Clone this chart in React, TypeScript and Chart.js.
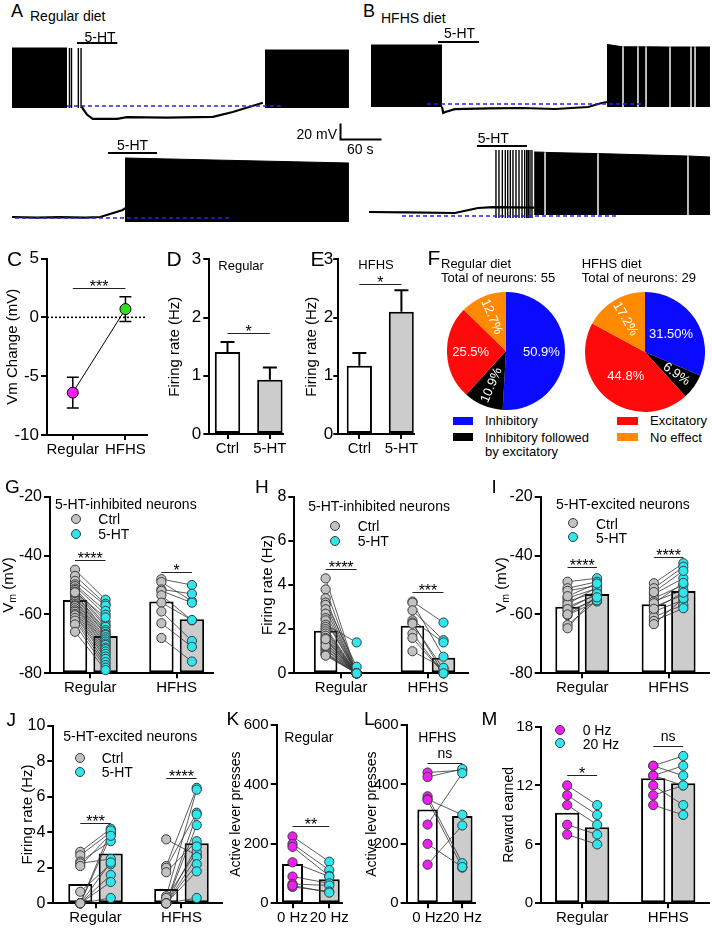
import React, { useEffect, useRef } from 'react';
import { Chart, registerables } from 'chart.js';

Chart.register(...registerables);

const FONT = '"Liberation Sans", Arial, Helvetica, sans-serif';
Chart.defaults.font.family = FONT;
Chart.defaults.color = '#000';

// ================= DATA =================
// --- A/B electrophysiology traces (time in s, membrane potential in mV)
// bursts: [tStart, tEnd, envelopeTopStart, envelopeTopEnd, envelopeBottom]
const a1Bursts = [[2.9, 83.4, 12.5, 12.5, -62.5], [373, 496, 10, 10, -62.5]];
const a1Spikes = [87, 90, 100, 104];
const a1MemT = [105, 107, 113, 121, 157, 171, 230, 297, 326, 351, 370];
const a1MemV = [-60, -64, -71, -76, -76, -74, -74.5, -73.5, -67.5, -61, -56];
const a1Drug = [98, 157];
const a1Baseline = [83.4, 398, -60];

const a2Bursts = [[168.3, 496, 5, -1.25, -75]];
const a2Spikes: number[] = [];
const a2MemT = [3, 40, 73, 110, 132, 151, 165, 168.3];
const a2MemV = [-68.75, -69.5, -69, -69.5, -68.75, -63.75, -60, -57.5];
const a2Drug = [143.4, 215.1];
const a2Baseline = [7.3, 324.9, -70];

const b1Bursts = [
  [7.3, 111.2, 16.25, 16.25, -61.25], [352.7, 375.4, 17, 14, -61.25], [376.8, 397.3, 14, 14, -61.25],
  [398.7, 409.1, 14, 14, -61.25], [410.5, 444.2, 14, 13.75, -61.25], [445.6, 474.9, 13.75, 13.75, -61.25],
  [476.3, 480.8, 13.75, 13.75, -61.25], [482.2, 503.4, 13.75, 13.75, -61.25],
];
const b1Spikes: number[] = [];
const b1MemT = [111.2, 113, 116, 130, 180, 228, 277, 325, 345, 353];
const b1MemV = [-61, -68.75, -67.5, -64, -63, -62.5, -63.75, -61.25, -56.25, -55];
const b1Drug = [105.4, 165.4];
const b1Baseline = [89.3, 403.9, -57.5];

const b2Bursts = [
  [246, 261.3, 12.5, 12.2, -66.25], [262.7, 338.8, 12, 10.5, -66.25],
  [340.2, 470.5, 10.5, 7.5, -66.25], [471.9, 503.4, 7.5, 6.25, -66.25],
];
const b2Spikes = [190.2, 194.6, 199.5, 203.9, 207.4, 211.2, 215.1, 219.5, 223.9, 228.3, 232.2, 235.2, 237.5, 240, 242.9];
const b2MemT = [4.4, 60, 130, 164, 186, 246];
const b2MemV = [-62.5, -63, -63.75, -57.5, -56.5, -57];
const b2Drug = [162.4, 235.6];
const b2Baseline = [52.7, 367.3, -67.5];

const scaleBarSeconds = 60;
const scaleBarMillivolts = 20;

// --- C
const dietGroups = ['Regular', 'HFHS'];
const cMeans = [-6.4, 0.7];
const cSem = [1.3, 1.05];
// --- D, E
const rateConditions = ['Ctrl', '5-HT'];
const dMeans = [1.41, 0.93];
const dSem = [0.17, 0.21];
const eMeans = [1.17, 2.1];
const eSem = [0.22, 0.37];
// --- F
const pieCategories = ['Inhibitory', 'Inhibitory followed by excitatory', 'Excitatory', 'No effect'];
const pieRegular = [50.9, 10.9, 25.5, 12.7];
const pieRegularLabels = ['50.9%', '10.9%', '25.5%', '12.7%'];
const pieHFHS = [31.5, 6.9, 44.8, 17.2];
const pieHFHSLabels = ['31.50%', '6.9%', '44.8%', '17.2%'];
// --- G (Vm, 5-HT-inhibited)
const gBars = [-55.1, -67.3, -55.6, -61.6];
const gRegCtrl = [-44.8, -46.9, -48.6, -49.8, -50.4, -51.2, -51.7, -52.3, -52.9, -53.1, -53.8, -54.2, -54.9, -55.3, -55.8, -56.4, -56.9, -57.2, -57.9, -58.6, -59.1, -59.8, -60.3, -61.2, -62.1, -63.4, -65.9, -52.5];
const gRegHT = [-55.0, -56.4, -57.0, -58.8, -60.1, -62.4, -63.5, -64.2, -65.3, -65.9, -66.6, -67.0, -67.8, -68.5, -69.2, -69.9, -70.4, -71.3, -71.8, -72.6, -73.4, -74.3, -75.1, -76.2, -77.2, -78.1, -78.9, -61.0];
const gHfCtrl = [-48, -49, -51.5, -52, -53.5, -56, -59, -63, -68];
const gHfHT = [-50, -55.5, -53, -56, -62, -61.9, -69, -71, -76];
// --- H (firing rate, 5-HT-inhibited)
const hBars = [1.93, 0.03, 2.15, 0.71];
const hRegCtrl = [4.3, 3.8, 3.4, 3.2, 3.1, 2.9, 2.7, 2.5, 2.4, 2.2, 2.1, 2.0, 1.9, 1.8, 1.7, 1.6, 1.5, 1.4, 1.35, 1.2, 1.1, 1.05, 0.95, 0.9, 0.85, 0.8, 1.25, 1.55];
const hRegHT = [0, 0, 0, 0.3, 0, 0, 0, 0, 0, 1.4, 0, 0, 0, 0, 0, 0, 0, 0, 0, 0, 0, 0, 0, 0, 0, 0, 0, 0];
const hHfCtrl = [3.25, 3.2, 2.85, 2.4, 2.3, 2.25, 1.8, 1.0, 1.6];
const hHfHT = [2.3, 0.75, 1.5, 1.4, 0, 0.2, 0, 0.25, 0];
// --- I (Vm, 5-HT-excited)
const iBars = [-57.35, -53.1, -56.5, -52.0];
const iRegCtrl = [-48.9, -51.1, -52.0, -54.5, -55.6, -57.4, -59.0, -60.2, -63.6, -64.7, -56.5, -58.2, -60.0, -53.8];
const iRegHT = [-47.7, -48.9, -50.2, -51.1, -52.3, -53.4, -54.7, -55.6, -55.2, -53.0, -50.8, -52.9, -54.2, -49.5];
const iHfCtrl = [-49.4, -51.1, -53.1, -54.5, -55.6, -57.4, -59.0, -60.8, -62.2, -63.3, -56.2, -58.1, -52.4];
const iHfHT = [-42.6, -43.8, -47.7, -50.0, -51.7, -53.4, -55.1, -56.8, -57.9, -54.5, -49.3, -52.6, -45.2];
// --- J (firing rate, 5-HT-excited)
const jBars = [1.09, 2.81, 0.8, 3.38];
const jRegCtrl = [2.9, 2.7, 2.35, 2.25, 2.1, 0.65, 0, 0, 0, 0, 0, 0];
const jRegHT = [4.2, 4.0, 3.5, 2.5, 3.9, 2.2, 4.1, 3.8, 2.3, 1.6, 1.2, 0.3];
const jHfCtrl = [3.6, 2.1, 2.0, 1.75, 0.4, 0.3, 0, 0, 0, 0, 0, 0, 0];
const jHfHT = [2.7, 6.5, 5.1, 3.5, 6.4, 2.9, 5.0, 4.4, 3.2, 2.6, 2.2, 1.8, 0.3];
// --- K, L, M
const stimConditions = ['0 Hz', '20 Hz'];
const kBars = [132, 81];
const kHz0 = [225, 200, 190, 138, 90, 65, 55, 60];
const kHz20 = [140, 112, 92, 90, 67, 60, 40, 36];
const lBars = [316, 294];
const lHz0 = [440, 425, 360, 350, 348, 265, 200, 130];
const lHz20 = [448, 452, 135, 298, 120, 438, 122, 262];
const mBars = [9.23, 7.74, 12.74, 12.23];
const mRegHz0 = [12, 11, 10, 8, 7];
const mRegHz20 = [10, 9, 8, 7, 6];
const mHfHz0 = [14, 14, 13, 13, 12, 11, 10];
const mHfHz20 = [13, 15, 14, 12, 10, 12, 9];

// ================= STYLE =================
const WHITE = '#ffffff';
const GREY = '#cccccc';
const DOT_GREY = '#c2c2c2';
const CYAN = '#2fe6ee';
const MAGENTA = '#f01ef0';
const GREEN = '#33dd22';
const PIE_COLORS = ['#0a0aff', '#000000', '#ff0a0a', '#ff8a00'];
const PX_PER_S = 41 / 60;
const PX_PER_MV = 16 / 20;
const TRACE_VMAX = 30;
const PAD_T = 14;
const PAD_R = 6;
const HX = 30;

// ================= PLUGINS =================
function yTitlePlugin(segs: any[], x: number, size: number) {
  return {
    id: 'yTitle',
    afterDraw(chart: any) {
      const { ctx, chartArea } = chart;
      const cy = (chartArea.top + chartArea.bottom) / 2;
      ctx.save();
      ctx.translate(x, cy);
      ctx.rotate(-Math.PI / 2);
      ctx.fillStyle = '#000';
      ctx.textBaseline = 'middle';
      ctx.textAlign = 'left';
      const parts = segs.map((s) => ({ text: s.text, sub: !!s.sub, font: `${s.sub ? size * 0.7 : size}px ${FONT}`, w: 0 }));
      let total = 0;
      for (const p of parts) { ctx.font = p.font; p.w = ctx.measureText(p.text).width; total += p.w; }
      let px = -total / 2;
      for (const p of parts) { ctx.font = p.font; ctx.fillText(p.text, px, p.sub ? size * 0.32 : 0); px += p.w; }
      ctx.restore();
    },
  };
}

function bracketPlugin(items: any[]) {
  return {
    id: 'brackets',
    afterDatasetsDraw(chart: any) {
      const { ctx } = chart;
      const xs = chart.scales.x, ys = chart.scales.y;
      ctx.save();
      for (const it of items) {
        const x0 = xs.getPixelForValue(it.x0), x1 = xs.getPixelForValue(it.x1);
        const py = Math.round(ys.getPixelForValue(it.y)) + 0.5;
        ctx.strokeStyle = '#222';
        ctx.lineWidth = 1;
        ctx.beginPath(); ctx.moveTo(x0, py); ctx.lineTo(x1, py); ctx.stroke();
        const star = /^\*+$/.test(it.text);
        ctx.font = `${star ? 16 : 14}px ${FONT}`;
        ctx.textAlign = 'center';
        ctx.textBaseline = 'alphabetic';
        ctx.fillStyle = '#000';
        ctx.fillText(it.text, (x0 + x1) / 2, star ? py + 3 : py - 5.5);
      }
      ctx.restore();
    },
  };
}

function errorPlugin(dsIndex: number, means: number[], errs: number[], both: boolean, cap: number, lw: number) {
  return {
    id: 'errorBars',
    beforeDatasetsDraw(chart: any) {
      const { ctx } = chart;
      const ys = chart.scales.y;
      const meta = chart.getDatasetMeta(dsIndex);
      ctx.save();
      ctx.strokeStyle = '#000';
      ctx.lineWidth = lw;
      meta.data.forEach((el: any, i: number) => {
        const x = el.x;
        const yu = ys.getPixelForValue(means[i] + errs[i]);
        const yd = both ? ys.getPixelForValue(means[i] - errs[i]) : ys.getPixelForValue(means[i]);
        ctx.beginPath();
        ctx.moveTo(x, yd); ctx.lineTo(x, yu);
        ctx.moveTo(x - cap / 2, yu); ctx.lineTo(x + cap / 2, yu);
        if (both) { ctx.moveTo(x - cap / 2, yd); ctx.lineTo(x + cap / 2, yd); }
        ctx.stroke();
      });
      ctx.restore();
    },
  };
}

function pieLabelPlugin(values: number[], labels: string[], frac: number, rotFrac: number) {
  return {
    id: 'pieLabels',
    afterDatasetsDraw(chart: any) {
      const { ctx } = chart;
      const meta = chart.getDatasetMeta(0);
      const total = values.reduce((a, b) => a + b, 0);
      meta.data.forEach((arc: any, i: number) => {
        const p = arc.getProps(['x', 'y', 'startAngle', 'endAngle', 'outerRadius'], true);
        const mid = (p.startAngle + p.endAngle) / 2;
        const small = values[i] / total < 0.2;
        const r = p.outerRadius * (small ? rotFrac : frac);
        ctx.save();
        ctx.translate(p.x + Math.cos(mid) * r, p.y + Math.sin(mid) * r);
        if (small) {
          let a = mid;
          while (a > Math.PI) a -= 2 * Math.PI;
          while (a < -Math.PI) a += 2 * Math.PI;
          if (a > Math.PI / 2) a -= Math.PI;
          if (a < -Math.PI / 2) a += Math.PI;
          ctx.rotate(a);
        }
        ctx.fillStyle = '#fff';
        ctx.font = `13px ${FONT}`;
        ctx.textAlign = 'center';
        ctx.textBaseline = 'middle';
        ctx.fillText(labels[i], 0, 0);
        ctx.restore();
      });
    },
  };
}

// ================= TRACES =================
const traces = [
  { box: { left: 10, top: 34, width: 342, height: 92 }, bursts: a1Bursts, spikes: a1Spikes, spikeRange: [-62.5, 12.5], memT: a1MemT, memV: a1MemV, drug: a1Drug, drugLevel: 18.75, baseline: a1Baseline },
  { box: { left: 10, top: 138, width: 342, height: 92 }, bursts: a2Bursts, spikes: a2Spikes, spikeRange: [-75, 5], memT: a2MemT, memV: a2MemV, drug: a2Drug, drugLevel: 11.25, baseline: a2Baseline },
  { box: { left: 366, top: 34, width: 346, height: 92 }, bursts: b1Bursts, spikes: b1Spikes, spikeRange: [-61, 16], memT: b1MemT, memV: b1MemV, drug: b1Drug, drugLevel: 20, baseline: b1Baseline },
  { box: { left: 366, top: 138, width: 346, height: 92 }, bursts: b2Bursts, spikes: b2Spikes, spikeRange: [-70, 15], memT: b2MemT, memV: b2MemV, drug: b2Drug, drugLevel: 20, baseline: b2Baseline },
];

const baseOpts = {
  animation: false,
  responsive: false,
  events: [] as string[],
  plugins: { legend: { display: false }, tooltip: { enabled: false } },
};

function traceConfig(tr: any) {
  const tMax = tr.box.width / PX_PER_S;
  const vMin = TRACE_VMAX - tr.box.height / PX_PER_MV;
  const datasets: any[] = [];
  tr.bursts.forEach((b: number[]) => {
    datasets.push({ data: [{ x: b[0], y: b[2] }, { x: b[1], y: b[3] }], borderColor: '#000', borderWidth: 1, backgroundColor: '#000', fill: { value: b[4] }, pointRadius: 0, order: 4 });
  });
  if (tr.spikes.length) {
    datasets.push({
      data: tr.spikes.flatMap((t: number) => [{ x: t, y: tr.spikeRange[0] }, { x: t, y: tr.spikeRange[1] }, { x: t, y: null }]),
      borderColor: '#000', borderWidth: 1.4, pointRadius: 0, spanGaps: false, fill: false, order: 4,
    });
  }
  datasets.push({ data: tr.memT.map((t: number, i: number) => ({ x: t, y: tr.memV[i] })), borderColor: '#000', borderWidth: 2.2, pointRadius: 0, fill: false, order: 3 });
  datasets.push({ data: [{ x: tr.drug[0], y: tr.drugLevel }, { x: tr.drug[1], y: tr.drugLevel }], borderColor: '#000', borderWidth: 2, pointRadius: 0, fill: false, order: 2 });
  datasets.push({ data: [{ x: tr.baseline[0], y: tr.baseline[2] }, { x: tr.baseline[1], y: tr.baseline[2] }], borderColor: '#2323e6', borderWidth: 1.5, borderDash: [4, 3], pointRadius: 0, fill: false, order: 1 });
  return {
    type: 'line',
    data: { datasets },
    options: {
      ...baseOpts,
      layout: { padding: 0 },
      scales: {
        x: { type: 'linear', min: 0, max: tMax, display: false },
        y: { type: 'linear', min: vMin, max: TRACE_VMAX, display: false },
      },
    },
  };
}

const scaleBox = { left: 330, top: 118, width: 60, height: 30 };
function scaleBarConfig() {
  const t0 = 15.4, vMax = 26.9;
  return {
    type: 'line',
    data: { datasets: [{ data: [{ x: t0, y: scaleBarMillivolts }, { x: t0, y: 0 }, { x: t0 + scaleBarSeconds, y: 0 }], borderColor: '#000', borderWidth: 2, pointRadius: 0, fill: false }] },
    options: {
      ...baseOpts,
      layout: { padding: 0 },
      scales: {
        x: { type: 'linear', min: 0, max: scaleBox.width / PX_PER_S, display: false },
        y: { type: 'linear', min: vMax - scaleBox.height / PX_PER_MV, max: vMax, display: false },
      },
    },
  };
}

// ================= BAR / DOT PANELS =================
const VM_TITLE = [{ text: 'V' }, { text: 'm', sub: true }, { text: ' (mV)' }];
const FR_TITLE = [{ text: 'Firing rate (Hz)' }];

function grp(g: number) { return [0, 1, g, g + 1]; }

function paired(pos: number[], c1: number[], t1: number[], c2: number[], t2: number[], colA: string, colB: string) {
  return {
    dots: [
      { x: pos[0], v: c1, color: colA }, { x: pos[1], v: t1, color: colB },
      { x: pos[2], v: c2, color: colA }, { x: pos[3], v: t2, color: colB },
    ],
    pairs: [{ x0: pos[0], x1: pos[1], a: c1, b: t1 }, { x0: pos[2], x1: pos[3], a: c2, b: t2 }],
  };
}

const gPos = grp(2.83), hPos = grp(2.8), iPos = grp(2.93), jPos = grp(2.82), mPos = grp(2.87);

const panels: any[] = [
  {
    key: 'C', plot: { l: 47, t: 258.5, r: 147, b: 435 }, titleX: 13, title: [{ text: 'Vm Change (mV)' }], titleSize: 15,
    yMin: -10, yMax: 5, yStep: 5, yFont: 17, xMin: -0.49, xMax: 1.4, tickPos: [0, 1], tickLabels: dietGroups,
    barX: [], bars: [], barColors: [], barPct: 0.6, dots: [], pairs: [],
    brackets: [{ x0: 0, x1: 1, y: 2.5, text: '***' }],
  },
  {
    key: 'D', plot: { l: 209.3, t: 259.3, r: 283, b: 434 }, titleX: 175, title: FR_TITLE, titleSize: 15,
    yMin: 0, yMax: 3, yStep: 1, yFont: 17, xMin: -0.43, xMax: 1.31, tickPos: [0, 1], tickLabels: rateConditions,
    barX: [0, 1], bars: dMeans, barColors: [WHITE, GREY], barPct: 0.6, dots: [], pairs: [], errors: dSem,
    brackets: [{ x0: 0, x1: 1, y: 1.74, text: '*' }],
  },
  {
    key: 'E', plot: { l: 338.3, t: 259.3, r: 414.3, b: 434 }, titleX: 311.7, title: FR_TITLE, titleSize: 15,
    yMin: 0, yMax: 3, yStep: 1, yFont: 17, xMin: -0.5, xMax: 1.29, tickPos: [0, 1], tickLabels: rateConditions,
    barX: [0, 1], bars: eMeans, barColors: [WHITE, GREY], barPct: 0.6, dots: [], pairs: [], errors: eSem, tickPad: 0, tickLen: 5,
    brackets: [{ x0: 0, x1: 1, y: 2.58, text: '*' }],
  },
  {
    key: 'G', plot: { l: 50, t: 496.7, r: 213, b: 673.3 }, titleX: 8.5, title: VM_TITLE, titleSize: 15,
    yMin: -80, yMax: -20, yStep: 20, yFont: 16, xMin: -0.82, xMax: 4.52, tickPos: [0.5, gPos[2] + 0.5], tickLabels: dietGroups,
    barX: gPos, bars: gBars, barColors: [WHITE, GREY, WHITE, GREY], barPct: 0.8,
    ...paired(gPos, gRegCtrl, gRegHT, gHfCtrl, gHfHT, DOT_GREY, CYAN),
    brackets: [{ x0: gPos[0], x1: gPos[1], y: -41.5, text: '****' }, { x0: gPos[2], x1: gPos[3], y: -45.5, text: '*' }],
  },
  {
    key: 'H', plot: { l: 294.3, t: 496.7, r: 468, b: 673.3 }, titleX: 268.3, title: FR_TITLE, titleSize: 15,
    yMin: 0, yMax: 8, yStep: 2, yFont: 16, xMin: -1.01, xMax: 4.59, tickPos: [0.5, hPos[2] + 0.5], tickLabels: dietGroups,
    barX: hPos, bars: hBars, barColors: [WHITE, GREY, WHITE, GREY], barPct: 0.76,
    ...paired(hPos, hRegCtrl, hRegHT, hHfCtrl, hHfHT, DOT_GREY, CYAN),
    brackets: [{ x0: hPos[0], x1: hPos[1], y: 4.72, text: '****' }, { x0: hPos[2], x1: hPos[3], y: 3.69, text: '***' }],
  },
  {
    key: 'I', plot: { l: 540.7, t: 496.7, r: 709, b: 673.3 }, titleX: 501.7, title: VM_TITLE, titleSize: 15,
    yMin: -80, yMax: -20, yStep: 20, yFont: 16, xMin: -0.91, xMax: 4.8, tickPos: [0.5, iPos[2] + 0.5], tickLabels: dietGroups,
    barX: iPos, bars: iBars, barColors: [WHITE, GREY, WHITE, GREY], barPct: 0.83,
    ...paired(iPos, iRegCtrl, iRegHT, iHfCtrl, iHfHT, DOT_GREY, CYAN),
    brackets: [{ x0: iPos[0], x1: iPos[1], y: -44.0, text: '****' }, { x0: iPos[2], x1: iPos[3], y: -40.4, text: '****' }],
  },
  {
    key: 'J', plot: { l: 53.3, t: 725.7, r: 221.7, b: 903.3 }, titleX: 28.3, title: FR_TITLE, titleSize: 15,
    yMin: 0, yMax: 10, yStep: 2, yFont: 16, xMin: -0.885, xMax: 4.64, tickPos: [0.5, jPos[2] + 0.5], tickLabels: dietGroups,
    barX: jPos, bars: jBars, barColors: [WHITE, GREY, WHITE, GREY], barPct: 0.79,
    ...paired(jPos, jRegCtrl, jRegHT, jHfCtrl, jHfHT, DOT_GREY, CYAN),
    brackets: [{ x0: jPos[0], x1: jPos[1], y: 4.54, text: '***' }, { x0: jPos[2], x1: jPos[3], y: 7.03, text: '****' }],
  },
  {
    key: 'K', plot: { l: 276.7, t: 725, r: 345, b: 903.3 }, titleX: 236, title: [{ text: 'Active lever presses' }], titleSize: 14,
    yMin: 0, yMax: 600, yStep: 200, yFont: 15, xMin: -0.43, xMax: 1.34, tickPos: [0, 1], tickLabels: stimConditions,
    barX: [0, 1], bars: kBars, barColors: [WHITE, GREY], barPct: 0.57,
    dots: [{ x: 0, v: kHz0, color: MAGENTA }, { x: 1, v: kHz20, color: CYAN }],
    pairs: [{ x0: 0, x1: 1, a: kHz0, b: kHz20 }],
    brackets: [{ x0: 0, x1: 1, y: 260, text: '**' }],
  },
  {
    key: 'L', plot: { l: 406.7, t: 725, r: 478, b: 903.3 }, titleX: 372.5, title: [{ text: 'Active lever presses' }], titleSize: 14,
    yMin: 0, yMax: 600, yStep: 200, yFont: 15, xMin: -0.6, xMax: 1.36, tickPos: [0, 1], tickLabels: stimConditions,
    barX: [0, 1], bars: lBars, barColors: [WHITE, GREY], barPct: 0.59,
    dots: [{ x: 0, v: lHz0, color: MAGENTA }, { x: 1, v: lHz20, color: CYAN }],
    pairs: [{ x0: 0, x1: 1, a: lHz0, b: lHz20 }],
    brackets: [{ x0: 0, x1: 1, y: 473, text: 'ns' }],
  },
  {
    key: 'M', plot: { l: 541, t: 726.5, r: 709, b: 903.3 }, titleX: 509, title: [{ text: 'Reward earned' }], titleSize: 14,
    yMin: 0, yMax: 18, yStep: 6, yFont: 15, xMin: -0.873, xMax: 4.73, tickPos: [0.5, mPos[2] + 0.5], tickLabels: dietGroups,
    barX: mPos, bars: mBars, barColors: [WHITE, GREY, WHITE, GREY], barPct: 0.81,
    ...paired(mPos, mRegHz0, mRegHz20, mHfHz0, mHfHz20, MAGENTA, CYAN),
    brackets: [{ x0: mPos[0], x1: mPos[1], y: 13.08, text: '*' }, { x0: mPos[2], x1: mPos[3], y: 16.03, text: 'ns' }],
  },
];

function panelBox(p: any) {
  const left = Math.round(p.titleX - 12);
  const top = Math.round(p.plot.t - PAD_T);
  const width = Math.round(p.plot.r + PAD_R - left);
  const height = Math.round(p.plot.b + HX - top);
  return {
    left, top, width, height,
    wy: p.plot.l - left,
    padTop: p.plot.t - top,
    padRight: width - (p.plot.r - left),
    padBottom: height - (p.plot.b - top) - HX,
    titleX: p.titleX - left,
  };
}

function panelConfig(p: any) {
  const box = panelBox(p);
  const datasets: any[] = [];
  const plugins: any[] = [yTitlePlugin(p.title, box.titleX, p.titleSize), bracketPlugin(p.brackets)];
  if (p.bars.length) {
    datasets.push({
      type: 'bar', data: p.barX.map((x: number, i: number) => ({ x, y: p.bars[i] })),
      backgroundColor: p.barColors, borderColor: '#000', borderWidth: 2, borderSkipped: false,
      base: p.yMin, barPercentage: p.barPct, categoryPercentage: 1, order: 5,
    });
    if (p.errors) plugins.push(errorPlugin(0, p.bars, p.errors, false, 14, 2));
  }
  p.pairs.forEach((pr: any) => {
    datasets.push({
      type: 'line',
      data: pr.a.flatMap((v: number, i: number) => [{ x: pr.x0, y: v }, { x: pr.x1, y: pr.b[i] }, { x: pr.x1, y: null }]),
      borderColor: '#333', borderWidth: 0.8, pointRadius: 0, spanGaps: false, fill: false, order: 3,
    });
  });
  p.dots.forEach((d: any) => {
    datasets.push({
      type: 'line', showLine: false, data: d.v.map((v: number) => ({ x: d.x, y: v })),
      pointRadius: 4.6, pointBackgroundColor: d.color, pointBorderColor: '#3a3a3a', pointBorderWidth: 1,
      clip: false, fill: false, order: 1,
    });
  });
  if (p.key === 'C') {
    datasets.push({
      type: 'line', data: [{ x: p.xMin, y: 0 }, { x: p.xMax, y: 0 }],
      borderColor: '#000', borderWidth: 1.5, borderDash: [2, 2], pointRadius: 0, fill: false, order: 4,
    });
    datasets.push({
      type: 'line', data: cMeans.map((v, i) => ({ x: i, y: v })),
      borderColor: '#000', borderWidth: 1, pointRadius: 5.5,
      pointBackgroundColor: [MAGENTA, GREEN], pointBorderColor: '#000', pointBorderWidth: 1, fill: false, clip: false, order: 1,
    });
    plugins.push(errorPlugin(1, cMeans, cSem, true, 12, 1.5));
  }
  return {
    type: 'bar',
    data: { datasets },
    plugins,
    options: {
      ...baseOpts,
      layout: { padding: { left: 0, top: box.padTop, right: box.padRight, bottom: box.padBottom } },
      scales: {
        x: {
          type: 'linear', min: p.xMin, max: p.xMax, offset: false,
          grid: { display: true, offset: false, drawOnChartArea: false, drawTicks: true, tickLength: 5, color: '#000', lineWidth: 2 },
          border: { display: true, color: '#000', width: 2 },
          ticks: { autoSkip: false, maxRotation: 0, minRotation: 0, padding: 1, font: { size: 15 }, color: '#000', callback: (_v: any, i: number) => p.tickLabels[i] },
          afterBuildTicks: (s: any) => { s.ticks = p.tickPos.map((v: number) => ({ value: v })); },
          afterFit: (s: any) => { s.height = HX; },
        },
        y: {
          type: 'linear', min: p.yMin, max: p.yMax,
          grid: { display: true, drawOnChartArea: false, drawTicks: true, tickLength: p.tickLen ?? 6, color: '#000', lineWidth: 2 },
          border: { display: true, color: '#000', width: 2 },
          ticks: { stepSize: p.yStep, padding: p.tickPad ?? 2, font: { size: p.yFont }, color: '#000' },
          afterFit: (s: any) => { s.width = box.wy; },
        },
      },
    },
  };
}

// ================= PIES =================
const pie1Box = { left: 447, top: 292, width: 118, height: 118 };
const pie2Box = { left: 585, top: 292, width: 120, height: 120 };
function pieConfig(values: number[], labels: string[], frac: number, rotFrac: number) {
  return {
    type: 'pie',
    data: { labels: pieCategories, datasets: [{ data: values, backgroundColor: PIE_COLORS, borderWidth: 0, hoverOffset: 0, offset: 0 }] },
    plugins: [pieLabelPlugin(values, labels, frac, rotFrac)],
    options: { ...baseOpts, layout: { padding: 0 } },
  };
}

// ================= COMPONENTS =================
function ChartBox({ box, make }: { box: any; make: () => any }) {
  const ref = useRef<HTMLCanvasElement>(null);
  useEffect(() => {
    const c = new Chart(ref.current as HTMLCanvasElement, make());
    return () => c.destroy();
  }, []);
  return (
    <canvas
      ref={ref}
      width={box.width}
      height={box.height}
      style={{ position: 'absolute', left: box.left, top: box.top, width: box.width, height: box.height }}
    />
  );
}

function Txt({ x, y, s, a, c, children }: any) {
  const tf = a === 'middle' ? 'translateX(-50%)' : a === 'end' ? 'translateX(-100%)' : undefined;
  return (
    <div style={{ position: 'absolute', left: x, top: y - 0.8465 * s, fontSize: s, lineHeight: `${s}px`, fontFamily: FONT, whiteSpace: 'nowrap', color: c || '#000', transform: tf }}>
      {children}
    </div>
  );
}

const TEXTS: any[] = [
  [11, 17, 18, 'A'], [30, 20.5, 14, 'Regular diet'], [363, 17, 18, 'B'], [381, 22.5, 14, 'HFHS diet'],
  [100, 41.5, 14, '5-HT', 'middle'], [132.5, 149.5, 14, '5-HT', 'middle'], [459.5, 37.5, 14, '5-HT', 'middle'], [493.3, 143, 14, '5-HT', 'middle'],
  [337, 138.5, 14, '20 mV', 'end'], [347, 154, 14, '60 s'],
  [7, 266, 21, 'C'], [166.5, 266, 21, 'D'], [310.5, 266, 21, 'E'], [427.5, 265, 21, 'F'],
  [218.3, 270.5, 13, 'Regular'], [358.3, 269.3, 13, 'HFHS'],
  [441, 268.3, 13, 'Regular diet'], [441, 281.7, 13, 'Total of neurons: 55'],
  [581.7, 268.3, 13, 'HFHS diet'], [581.7, 281.7, 13, 'Total of neurons: 29'],
  [485, 425.3, 13, pieCategories[0]], [485, 441.7, 13, 'Inhibitory followed'], [485, 456.5, 13, 'by excitatory'],
  [650, 425.3, 13, pieCategories[2]], [650, 441.7, 13, pieCategories[3]],
  [5, 493.5, 19, 'G'], [255, 493.5, 19, 'H'], [491.5, 493.5, 19, 'I'], [6.5, 726.5, 19, 'J'],
  [226.5, 725, 19, 'K'], [364, 725, 19, 'L'], [481.5, 725, 19, 'M'],
  [55, 509, 14, '5-HT-inhibited neurons'], [98.3, 524.3, 14, 'Ctrl'], [98.3, 539, 14, '5-HT'],
  [308.3, 511, 14, '5-HT-inhibited neurons'], [357.7, 531, 14, 'Ctrl'], [357.7, 546.3, 14, '5-HT'],
  [556, 509.3, 14, '5-HT-excited neurons'], [596, 528.5, 14, 'Ctrl'], [596, 542.5, 14, '5-HT'],
  [63.3, 741, 14, '5-HT-excited neurons'], [101.7, 763, 14, 'Ctrl'], [101.7, 777, 14, '5-HT'],
  [284.3, 741.5, 14, 'Regular'], [418.3, 741.5, 14, 'HFHS'],
  [582.7, 735, 14, '0 Hz'], [582.7, 748.5, 14, '20 Hz'],
];

const LEGEND_DOTS: any[] = [
  [76, 519.3, DOT_GREY], [76, 534, CYAN], [335, 525.7, DOT_GREY], [335, 541, CYAN],
  [573.3, 523.3, DOT_GREY], [573.3, 537.3, CYAN], [80, 758.3, DOT_GREY], [80, 771.7, CYAN],
  [560, 730, MAGENTA], [560, 743.3, CYAN],
];

const LEGEND_RECTS: any[] = [
  [453.3, 416.7, 20, 8.3, PIE_COLORS[0]], [453.3, 432.7, 20, 8.3, PIE_COLORS[1]],
  [616.7, 416.7, 21, 8.3, PIE_COLORS[2]], [616.7, 432.7, 21, 8.3, PIE_COLORS[3]],
];

export default function App() {
  return (
    <div style={{ position: 'absolute', left: 0, top: 0, width: 712, height: 929, overflow: 'hidden', background: '#fff', fontFamily: FONT }}>
      {traces.map((t, i) => <ChartBox key={'tr' + i} box={t.box} make={() => traceConfig(t)} />)}
      <ChartBox box={scaleBox} make={scaleBarConfig} />
      {panels.map((p) => <ChartBox key={p.key} box={panelBox(p)} make={() => panelConfig(p)} />)}
      <ChartBox box={pie1Box} make={() => pieConfig(pieRegular, pieRegularLabels, 0.6, 0.63)} />
      <ChartBox box={pie2Box} make={() => pieConfig(pieHFHS, pieHFHSLabels, 0.52, 0.64)} />
      {LEGEND_RECTS.map((r, i) => (
        <div key={'r' + i} style={{ position: 'absolute', left: r[0], top: r[1], width: r[2], height: r[3], background: r[4] }} />
      ))}
      {LEGEND_DOTS.map((d, i) => (
        <div key={'d' + i} style={{ position: 'absolute', left: d[0] - 5, top: d[1] - 5, width: 10, height: 10, borderRadius: '50%', background: d[2], border: '1px solid #3a3a3a', boxSizing: 'border-box' }} />
      ))}
      {TEXTS.map((t, i) => <Txt key={'x' + i} x={t[0]} y={t[1]} s={t[2]} a={t[4]}>{t[3]}</Txt>)}
    </div>
  );
}
